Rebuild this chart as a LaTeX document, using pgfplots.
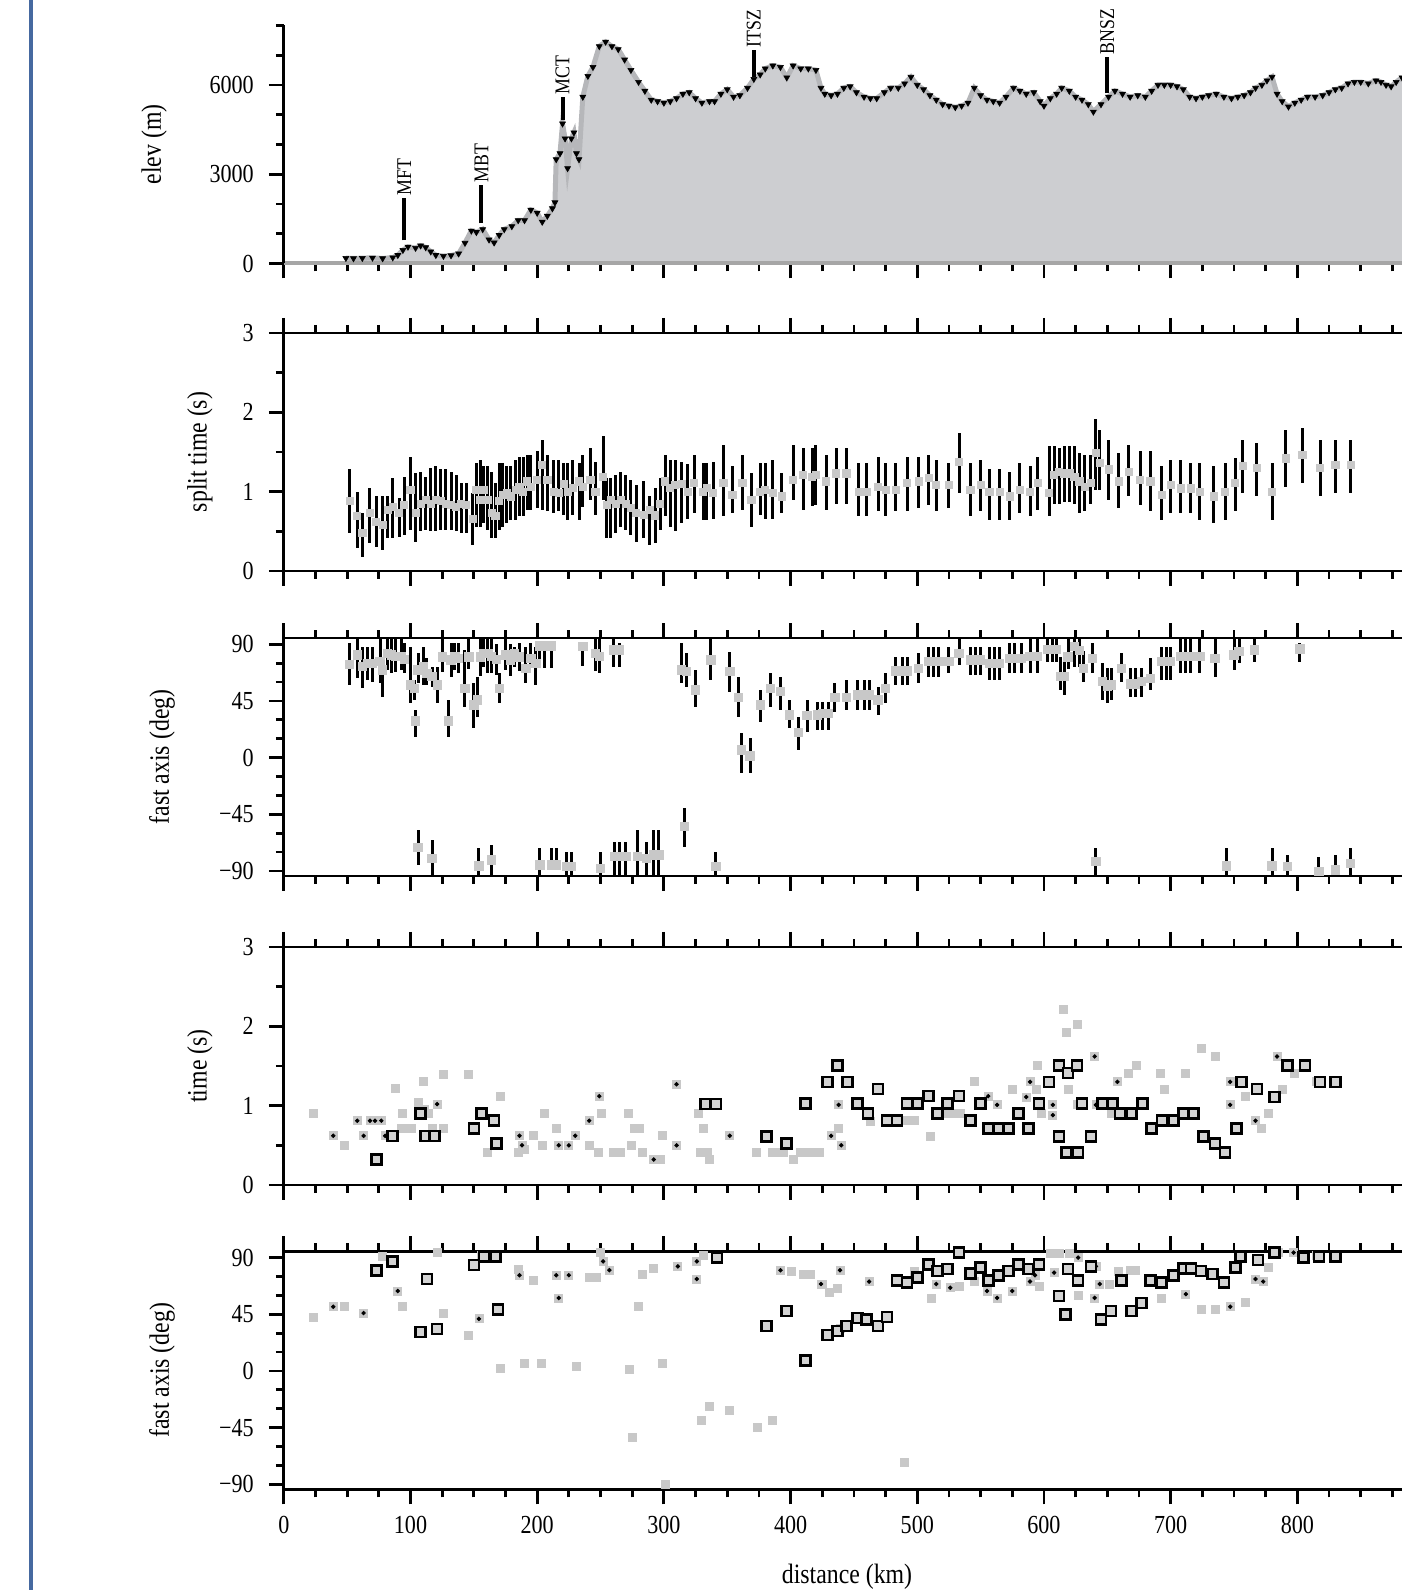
\documentclass[border=0pt]{standalone}
\usepackage{pgfplots}
\usepackage{pgfplotstable}
\pgfplotsset{compat=1.18}
\usepackage{fontspec}
\setmainfont{Liberation Serif}[FakeStretch=0.85]
\definecolor{elevfill}{RGB}{205,206,209}
\definecolor{haloc}{RGB}{182,183,186}
\definecolor{graysq}{RGB}{200,200,200}
\definecolor{blueline}{RGB}{70,105,160}

\pgfplotstableread{
x e
0 50
48 50
49 180
55 170
62 180
70 190
78 170
86 200
90 280
94 450
98 560
104 520
108 600
112 540
116 400
120 280
126 250
132 270
138 330
143 690
148 1100
152 1050
157 1150
162 800
166 700
170 950
174 1150
180 1250
185 1450
190 1450
195 1800
200 1700
204 1400
208 1600
212 1850
214 2050
215 3500
218 3700
220 4700
222 4200
224 3200
227 4200
229 4400
231 3700
233 3500
236 5600
240 6300
244 6600
249 7300
254 7450
259 7300
264 7200
269 6850
274 6500
280 6100
285 5800
290 5500
295 5450
300 5400
305 5450
310 5550
315 5700
320 5750
325 5550
330 5400
336 5450
340 5450
345 5700
350 5850
355 5600
360 5650
366 5900
371 6200
376 6350
380 6550
386 6650
392 6600
397 6250
402 6650
408 6550
414 6550
420 6500
424 5900
427 5700
432 5650
437 5700
442 5900
447 5950
452 5750
458 5600
463 5550
468 5550
474 5750
479 5900
485 5900
490 6050
495 6270
500 6000
505 5850
510 5650
515 5500
520 5350
525 5300
530 5250
535 5300
540 5400
545 5900
550 5650
555 5500
560 5450
565 5400
570 5600
576 5900
581 5800
586 5700
592 5750
597 5450
600 5300
605 5550
610 5700
614 5900
620 5800
625 5600
630 5500
635 5350
639 5100
645 5350
651 5600
656 5800
662 5700
668 5600
674 5650
680 5600
685 5800
690 6000
695 6000
700 6000
705 5950
710 5850
715 5600
720 5550
725 5600
730 5650
736 5700
742 5600
748 5550
753 5600
758 5650
763 5750
767 5900
772 6000
776 6150
780 6270
784 5700
788 5450
793 5270
798 5400
803 5500
808 5600
814 5600
820 5650
825 5750
830 5850
835 5900
840 6050
845 6100
850 6100
856 6050
862 6150
866 6100
870 6000
874 5950
878 6100
882.6 6250
}\elev

\pgfplotstableread{
x y lo hi
52 0.88 0.48 1.28
58 0.69 0.29 1.00
62 0.48 0.18 0.73
68 0.73 0.35 1.04
73 0.62 0.30 0.95
78 0.58 0.27 0.94
82 0.77 0.41 0.94
86 0.81 0.41 1.17
91 0.73 0.43 0.92
95 0.83 0.45 1.19
100 1.02 0.52 1.44
104 0.73 0.37 1.23
108 0.85 0.50 1.25
112 0.90 0.52 1.19
116 0.85 0.50 1.30
120 0.90 0.50 1.32
124 0.88 0.52 1.28
128 0.85 0.52 1.28
132 0.83 0.52 1.25
136 0.81 0.50 1.21
140 0.85 0.48 1.11
144 0.83 0.48 1.11
149 0.66 0.33 0.98
152 1.02 0.56 1.36
155 0.90 0.56 1.40
158 1.02 0.60 1.32
161 0.90 0.52 1.32
164 0.73 0.41 1.25
167 0.69 0.41 1.11
170 0.88 0.52 1.36
173 0.96 0.56 1.36
176 0.98 0.60 1.32
179 0.94 0.64 1.32
183 1.02 0.64 1.40
186 1.06 0.69 1.44
189 1.00 0.69 1.44
192 1.13 0.77 1.46
195 1.06 0.77 1.46
200 1.15 0.79 1.51
204 1.34 0.77 1.65
208 1.15 0.75 1.46
213 1.00 0.73 1.40
217 0.98 0.75 1.40
221 1.10 0.70 1.36
224 1.00 0.64 1.36
228 1.05 0.70 1.40
233 1.13 0.64 1.36
236 1.06 0.81 1.46
242 1.15 0.90 1.55
246 1.00 0.70 1.38
252 1.19 0.90 1.70
255 0.83 0.41 1.17
258 0.90 0.41 1.17
262 0.85 0.48 1.21
266 0.90 0.55 1.25
270 0.85 0.52 1.21
274 0.80 0.45 1.15
278 0.73 0.37 1.09
284 0.71 0.41 1.13
289 0.77 0.33 0.94
293 0.70 0.35 1.05
297 0.85 0.52 1.17
301 1.13 0.69 1.46
305 1.05 0.55 1.40
309 1.09 0.50 1.40
314 1.10 0.60 1.38
319 1.00 0.65 1.35
324 1.11 0.73 1.46
331 1.00 0.64 1.36
334 1.05 0.64 1.36
339 0.98 0.66 1.38
347 1.11 0.69 1.59
354 0.96 0.73 1.32
362 1.11 0.77 1.46
369 0.90 0.56 1.23
376 1.00 0.70 1.36
380 1.02 0.66 1.36
386 0.98 0.66 1.40
393 0.94 0.73 1.23
402 1.15 0.90 1.59
410 1.21 0.77 1.55
417 1.19 0.82 1.55
420 1.21 0.83 1.59
428 1.13 0.77 1.46
436 1.23 0.85 1.55
444 1.23 0.85 1.55
454 1.00 0.69 1.36
460 1.00 0.69 1.36
469 1.06 0.75 1.44
475 1.02 0.69 1.36
483 1.02 0.75 1.36
492 1.11 0.75 1.44
501 1.13 0.79 1.44
509 1.17 0.83 1.46
515 1.09 0.75 1.40
525 1.09 0.79 1.36
533 1.38 0.98 1.74
542 1.02 0.69 1.36
550 1.09 0.75 1.40
557 1.00 0.64 1.28
565 1.00 0.64 1.28
573 0.94 0.64 1.25
581 1.02 0.73 1.36
589 1.00 0.69 1.32
595 1.11 0.77 1.44
604 0.98 0.69 1.57
608 1.21 0.85 1.57
612 1.25 0.85 1.55
616 1.23 0.87 1.57
620 1.23 0.87 1.57
624 1.19 0.85 1.57
628 1.13 0.73 1.49
632 1.06 0.75 1.46
637 1.11 0.85 1.46
641 1.49 1.02 1.91
644 1.36 1.02 1.78
651 1.28 0.90 1.65
659 1.13 0.79 1.49
667 1.25 0.94 1.59
676 1.15 0.83 1.51
684 1.13 0.75 1.51
693 0.96 0.64 1.32
700 1.09 0.73 1.40
708 1.04 0.73 1.40
716 1.04 0.73 1.36
723 1.00 0.64 1.36
734 0.94 0.60 1.32
743 1.00 0.64 1.36
751 1.11 0.75 1.42
757 1.32 0.98 1.65
768 1.30 0.94 1.61
780 1.00 0.64 1.36
791 1.42 1.06 1.78
804 1.46 1.11 1.80
818 1.30 0.94 1.65
830 1.34 0.98 1.65
842 1.34 0.98 1.65
}\split

\pgfplotstableread{
x y lo hi
52 74.1 57.7 90.8
58 81.5 63.0 97
62 72.3 55.1 88.1
66 74.9 61.7 88.1
70 74.9 60.4 88.1
76 76.2 59.0 97
78 69.6 48.4 77.6
82 83.0 69.6 97
85 81.5 67.0 97
88 80.2 68.3 97
93 80.2 69.6 97
95 78.0 67.0 90.8
100 57.7 43.1 88.1
103 55.0 45.8 61.7
104 29.1 16.7 37.9
106 69.6 59.0 82.9
110 72.0 58.0 88.0
113 67.0 58.0 78.9
117 64.3 56.4 72.3
121 57.7 43.1 72.3
125 80.0 68.0 97
130 29.1 16.7 45.8
132 77.6 64.3 90.8
135 80.2 69.6 90.8
138 78.9 67.0 90.8
143 55.1 40.5 85.5
146 80.0 70.0 97
150 41.8 23.3 59.0
153 45.8 32.0 64.0
155 80.0 65.0 97
158 83.0 72.0 97
161 82.9 67.0 97
164 80.2 67.0 97
168 78.0 66.0 90.0
170 55.1 43.1 67.0
175 81.5 69.6 97
179 77.0 65.0 90.0
182 82.9 72.3 88.1
186 80.0 69.0 91.0
191 70.9 59.0 88.1
195 78.9 70.9 90.8
199 75.0 57.7 88.0
202 88.8 70.9 90.8
206 88.8 70.9 90.8
211 88.8 71.5 90.8
236 88.1 72.8 90.8
246 82.9 69.0 97
249 80.2 67.0 97
260 85.5 72.3 97
265 85.5 72.3 90.8
314 69.6 59.0 90.8
318 68.3 56.4 82.9
325 53.7 40.5 69.6
337 77.6 61.7 97
352 68.3 52.4 84.2
359 47.6 32.6 64.3
361 6.1 -12.4 19.3
368 1.3 -12.4 15.4
376 41.8 28.6 53.7
384 55.1 40.5 67.0
392 52.4 38.0 64.3
399 33.9 23.3 45.8
406 19.9 6.1 32.6
413 33.4 20.6 45.8
421 33.9 22.0 44.5
425 35.2 22.0 44.5
430 35.2 22.0 44.5
435 47.6 36.0 59.0
444 47.6 37.9 61.7
453 49.8 37.9 61.7
458 49.8 37.9 61.7
462 49.8 37.9 61.7
469 45.8 33.9 56.4
475 55.1 43.1 67.0
483 68.8 57.7 80.2
488 68.8 57.7 80.2
492 68.8 57.7 80.2
501 70.9 59.0 82.9
509 76.2 64.3 88.1
513 76.2 64.3 88.1
517 76.2 64.3 88.1
525 76.2 67.0 88.1
533 82.9 73.6 97
542 77.6 65.6 88.1
546 77.6 65.6 88.1
550 77.6 65.6 88.1
557 74.9 61.7 88.1
561 74.9 61.7 88.1
565 74.9 61.7 88.1
573 78.9 67.0 90.8
577 78.9 67.0 90.8
582 78.9 67.0 90.8
589 80.2 67.0 97
595 80.2 67.0 97
603 86.0 76.2 97
607 86.0 76.2 97
610 86.0 76.2 97
613 64.3 53.7 80.2
616 64.3 50.0 80.2
619 80.0 70.0 97
624 88.1 72.0 97
628 85.0 72.0 97
631 70.9 60.4 85.0
638 78.9 67.0 90.8
646 60.4 46.0 74.9
650 56.4 43.1 70.9
653 57.7 46.0 70.9
661 70.9 60.4 82.9
668 58.4 48.4 70.9
672 58.4 48.4 70.9
677 60.4 48.4 70.9
684 63.0 53.7 78.9
693 76.2 61.7 88.1
697 76.2 61.7 88.1
700 76.2 61.7 88.1
708 80.2 67.0 97
712 80.2 67.0 97
716 80.2 67.0 97
723 80.2 67.0 97
735 78.9 64.3 97
750 81.5 69.6 97
754 84.2 74.9 97
766 85.5 76.2 97
802 86.5 76.2 90.8
106 -71.5 -85.2 -57.4
117 -79.9 -97 -65.4
154 -86.0 -97 -72.0
164 -81.3 -97 -69.4
202 -85.2 -97 -72.0
211 -85.2 -89.2 -72.0
215 -85.2 -89.2 -72.0
223 -86.6 -97 -74.6
227 -86.6 -97 -74.6
250 -87.9 -97 -74.6
261 -78.6 -97 -66.7
265 -78.6 -97 -66.7
270 -78.6 -97 -66.7
279 -78.6 -97 -57.4
286 -79.9 -97 -66.7
292 -77.3 -97 -57.4
296 -77.3 -97 -57.4
316 -54.8 -70.7 -40.2
341 -86.6 -97 -74.6
641 -82.6 -97 -72.0
744 -86.0 -97 -72.0
780 -86.0 -97 -72.0
792 -86.6 -97 -77.3
817 -90.5 -97 -78.6
830 -89.2 -97 -77.3
842 -84.0 -97 -72.0
}\fastA

\pgfplotsset{
  every non boxed x axis/.style={},
  every non boxed y axis/.style={},
  base/.style={
    scale only axis, width=559.1pt, height=119pt,
    anchor=south west,
    xmin=0, xmax=882.6,
    enlargelimits=false,
    axis on top,
    axis x line*=box, axis y line*=left,
    x axis line style={-}, y axis line style={-},
    axis line style={line width=1.4pt},
    xtick={0,100,...,800}, minor xtick={25,50,75,125,150,175,225,250,275,325,350,375,425,450,475,525,550,575,625,650,675,725,750,775,825,850,875},
    xticklabels={},
    xtick align=outside, ytick align=outside,
    major tick length=7.5pt, minor tick length=4pt,
    tick style={black, line width=1.4pt},
    tick label style={font=\fontsize{13}{15}\selectfont},
    yticklabel style={xshift=-4pt},
    xticklabel style={yshift=-2.5pt},
    label style={font=\fontsize{14}{16}\selectfont},
  },
  deg/.style={
    ymin=-94, ymax=95,
    ytick={-90,-45,0,45,90},
    yticklabels={−90,−45,0,45,90},
    minor ytick={-75,-60,-30,-15,15,30,60,75},
  },
  sec/.style={
    ymin=0, ymax=3,
    ytick={0,1,2,3}, yticklabels={0,1,2,3},
    minor ytick={0.5,1.5,2.5},
  },
}

\begin{document}
\begin{tikzpicture}
\useasboundingbox (0,0) rectangle (701pt,795pt);
\fill[blueline] (14.5pt,0) rectangle (16.5pt,795pt);

% Panel 1: elevation
\begin{axis}[base, at={(141.9pt,663.25pt)},
  axis x line*=bottom,
  x axis line style={line width=2pt, draw=gray!70},
  ymin=0, ymax=8000,
  ytick={0,3000,6000}, yticklabels={0,3000,6000},
  minor ytick={1000,2000,4000,5000,7000,8000},
  ylabel={elev (m)},
  ylabel style={at={(axis description cs:-0.116,0.5)}, anchor=center},
  clip=false]
\addplot[fill=elevfill, draw=none] table[x=x,y=e] {\elev} \closedcycle;
\addplot[black, line width=1pt] coordinates {(0,50) (48,50)};
\addplot[haloc, line width=2.5pt, mark=triangle*, mark size=1.7pt,
  mark options={rotate=180, fill=black, draw=black, line width=0.3pt},
  skip coords between index={0}{2}] table[x=x,y=e] {\elev};
\addplot[black, line width=2pt] coordinates {(95,780) (95,2200)};
\addplot[black, line width=2pt] coordinates {(156,1350) (156,2640)};
\addplot[black, line width=2pt] coordinates {(220,4820) (220,5600)};
\addplot[black, line width=2pt] coordinates {(371,6270) (371,7180)};
\addplot[black, line width=2pt] coordinates {(650,5720) (650,6940)};
\node[rotate=90, anchor=west, inner sep=1pt, font=\fontsize{10.5}{12}\selectfont] at (axis cs:95,2200) {MFT};
\node[rotate=90, anchor=west, inner sep=1pt, font=\fontsize{10.5}{12}\selectfont] at (axis cs:156,2640) {MBT};
\node[rotate=90, anchor=west, inner sep=1pt, font=\fontsize{10.5}{12}\selectfont] at (axis cs:220,5600) {MCT};
\node[rotate=90, anchor=west, inner sep=1pt, font=\fontsize{10.5}{12}\selectfont] at (axis cs:371,7180) {ITSZ};
\node[rotate=90, anchor=west, inner sep=1pt, font=\fontsize{10.5}{12}\selectfont] at (axis cs:650,6940) {BNSZ};
\end{axis}

% Panel 2: split time
\begin{axis}[base, sec, at={(141.9pt,509.5pt)},
  ylabel={split time (s)},
  ylabel style={at={(axis description cs:-0.075,0.5)}, anchor=center}]
\addplot[draw=none, mark=none, error bars/.cd, y dir=both, y explicit, error mark=none,
  error bar style={line width=1.5pt, black}]
  table[x=x, y=y, y error plus expr=\thisrow{hi}-\thisrow{y}, y error minus expr=\thisrow{y}-\thisrow{lo}] {\split};
\addplot[only marks, mark=square*, mark size=1.8pt, mark options={fill=graysq, draw=graysq}]
  table[x=x, y=y] {\split};
\end{axis}

% Panel 3: fast axis
\begin{axis}[base, deg, at={(141.9pt,357pt)},
  ylabel={fast axis (deg)},
  ylabel style={at={(axis description cs:-0.109,0.5)}, anchor=center}]
\addplot[draw=none, mark=none, error bars/.cd, y dir=both, y explicit, error mark=none,
  error bar style={line width=1.5pt, black}]
  table[x=x, y=y, y error plus expr=\thisrow{hi}-\thisrow{y}, y error minus expr=\thisrow{y}-\thisrow{lo}] {\fastA};
\addplot[only marks, mark=square*, mark size=2.1pt, mark options={fill=graysq, draw=graysq}]
  table[x=x, y=y] {\fastA};
\end{axis}

% Panel 4: time
\begin{axis}[base, sec, at={(141.9pt,202.5pt)},
  ylabel={time (s)},
  ylabel style={at={(axis description cs:-0.075,0.5)}, anchor=center}]
\addplot[only marks, mark=square*, mark size=2pt, mark options={fill=graysq, draw=graysq}] coordinates {
(23,0.90) (39,0.62) (48,0.50) (58,0.81) (63,0.62) (68,0.81) (72,0.81) (77,0.81) (80,0.62)
(88,1.22) (93,0.71) (94,0.90) (98,0.71) (101,0.71) (106,1.04) (110,1.30) (111,0.95) (114,0.90)
(117,0.71) (121,1.02) (126,1.40) (126,0.71) (146,1.40) (161,0.41) (171,1.12) (185,0.41) (186,0.62)
(188,0.50) (190,0.45) (197,0.62) (204,0.50) (206,0.90) (215,0.71) (217,0.50) (225,0.50) (230,0.62)
(241,0.50) (241,0.81) (248,0.41) (249,1.12) (251,0.90) (260,0.41) (266,0.41) (272,0.90) (274,0.50)
(277,0.71) (281,0.71) (283,0.41) (292,0.32) (297,0.32) (299,0.62) (310,1.27) (310,0.50) (327,0.90)
(331,0.71) (329,0.41) (334,0.41) (336,0.32) (352,0.62) (373,0.41) (386,0.41) (390,0.41) (394,0.41)
(402,0.32) (408,0.41) (413,0.41) (418,0.41) (423,0.41) (432,0.62) (438,0.71) (440,0.50) (438,1.01)
(445,1.32) (463,0.80) (489,0.81) (494,0.81) (498,0.81) (510,0.61) (516,0.90) (522,0.90) (528,0.90)
(534,0.90) (545,1.30) (556,1.12) (563,1.01) (575,1.21) (586,1.11) (589,1.30) (595,1.51) (594,1.21)
(598,0.90) (607,1.01) (607,0.88) (615,2.21) (618,1.92) (626,2.02) (619,1.21) (626,1.01) (640,1.62)
(641,1.01) (653,0.90) (658,1.30) (667,1.41) (673,1.51) (692,1.41) (695,1.21) (712,1.41) (724,1.72)
(735,1.62) (747,1.30) (747,1.01) (759,1.12) (767,0.81) (772,0.71) (777,0.90) (784,1.62) (788,1.21)
(798,1.41) (815,1.30)
};
\addplot[only marks, mark=*, mark size=0.9pt, black] coordinates {
(39,0.62) (58,0.81) (63,0.62) (68,0.81) (72,0.81) (77,0.81) (80,0.62) (111,0.95) (121,1.02)
(186,0.62) (188,0.50) (217,0.50) (225,0.50) (230,0.62) (241,0.81) (249,1.12) (292,0.32) (310,1.27)
(310,0.50) (352,0.62) (432,0.62) (440,0.50) (438,1.01) (556,1.12) (563,1.01) (586,1.11) (589,1.30)
(607,1.01) (607,0.88) (640,1.62) (641,1.01) (658,1.30) (747,1.30) (747,1.01) (767,0.81) (784,1.62)
};
\addplot[only marks, mark=square*, mark size=2.5pt, mark options={fill=graysq!80, draw=black, line width=1.3pt}] coordinates {
(73,0.32) (86,0.62) (108,0.90) (112,0.62) (119,0.62) (150,0.71) (156,0.90) (166,0.81) (168,0.52)
(333,1.02) (341,1.02) (381,0.61) (397,0.52) (412,1.03) (429,1.30) (437,1.51) (445,1.30) (453,1.03)
(461,0.90) (469,1.21) (476,0.81) (484,0.81) (492,1.03) (500,1.03) (509,1.12) (516,0.90) (524,1.03)
(533,1.12) (542,0.81) (550,1.03) (556,0.71) (564,0.71) (572,0.71) (580,0.90) (588,0.71) (596,1.03)
(604,1.30) (612,1.51) (619,1.41) (626,1.51) (612,0.61) (618,0.41) (627,0.41) (630,1.03) (637,0.61)
(646,1.03) (654,1.03) (660,0.90) (669,0.90) (678,1.03) (685,0.71) (693,0.81) (702,0.81) (710,0.90)
(718,0.90) (726,0.61) (735,0.52) (743,0.41) (752,0.71) (756,1.30) (768,1.21) (782,1.11) (792,1.51)
(806,1.51) (818,1.30) (830,1.30)
};
\end{axis}

% Panel 5: fast axis
\begin{axis}[base, deg, at={(141.9pt,50.35pt)},
  xticklabels={0,100,200,300,400,500,600,700,800},
  ylabel={fast axis (deg)},
  ylabel style={at={(axis description cs:-0.109,0.5)}, anchor=center},
  xlabel={distance (km)},
  xlabel style={at={(axis description cs:0.5037,-0.368)}, anchor=center}]
\addplot[only marks, mark=square*, mark size=2pt, mark options={fill=graysq, draw=graysq}] coordinates {
(23,42.7) (39,51) (48,51) (63,46) (75,80) (78,91) (90,63.5) (94,51) (121,94) (126,46) (146,28.4)
(149,83) (154,41.4) (156,92) (171,2.4) (185,81) (186,76) (190,6) (197,72) (203,6) (215,76) (217,58)
(225,76) (231,4) (241,74) (247,74) (250,94) (252,87) (257,80) (273,1) (275,-53) (280,51) (283,77)
(292,81.5) (299,6) (301,-90) (311,83) (326,87) (326,73) (331,92) (330,-39) (336,-28) (352,-31)
(374,-45) (386,-39) (392,80) (401,79) (410,77) (413,77) (416,77) (424,69) (425,69) (431,62)
(437,65.5) (439,80) (439,34) (462,71) (490,-73) (498,79) (511,58) (515,69) (526,66) (533,67)
(545,71) (555,63.5) (563,58) (575,63.5) (589,71) (596,67) (593,76) (608,78) (605,93) (612,93)
(620,93) (627,60) (627,90) (640,58) (641,83) (644,69) (652,69) (659,79) (668,80) (672,80) (693,58)
(712,61) (724,49) (735,49) (747,51) (759,54.7) (767,73) (773,71) (777,82) (785,94) (797,94) (815,92)
};
\addplot[only marks, mark=*, mark size=0.9pt, black] coordinates {
(39,51) (63,46) (75,80) (90,63.5) (154,41.4) (186,76) (215,76) (217,58) (225,76) (252,87) (257,80)
(311,83) (326,87) (326,73) (392,80) (424,69) (439,80) (439,34) (462,71) (515,69) (526,66) (555,63.5)
(563,58) (575,63.5) (589,71) (593,76) (608,78) (627,90) (640,58) (641,83) (644,69) (712,61) (747,51)
(767,73) (773,71) (797,94)
};
\addplot[only marks, mark=square*, mark size=2.5pt, mark options={fill=graysq!80, draw=black, line width=1.3pt}] coordinates {
(73,80) (86,87) (108,31) (113,73) (121,33.4) (150,84) (158,91) (167,91) (169,49) (342,90) (381,35.6)
(397,47.5) (412,8.5) (429,28.4) (437,31.6) (444,35.6) (453,42) (460,41) (469,35.6) (476,42.7)
(484,72) (492,70) (500,74) (509,84.7) (516,79.4) (524,81) (533,94) (542,77.5) (550,82) (556,72)
(564,76) (572,79.4) (580,84.7) (588,81) (596,84.7) (612,59.5) (617,45) (619,81) (627,72) (637,83)
(645,41) (653,47.5) (661,72) (669,47.5) (677,54) (684,72) (693,70) (702,76) (710,81.5) (716,81.5)
(724,79.4) (733,77) (742,70) (751,82) (755,91) (769,88) (782,94) (805,90) (817,91) (830,91)
};
\end{axis}
\end{tikzpicture}
\end{document}
